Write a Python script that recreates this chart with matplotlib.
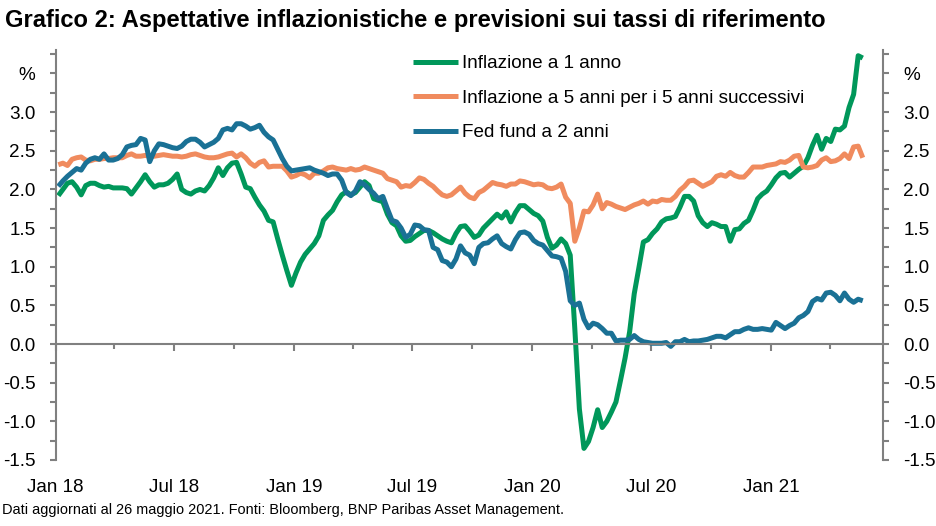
import numpy as np
import pandas as pd
import matplotlib
matplotlib.use('Agg')
import matplotlib.pyplot as plt
import matplotlib.dates as mdates
from matplotlib.ticker import MultipleLocator, FuncFormatter
from matplotlib import font_manager as fm
from datetime import datetime

# ---------------- data (weekly) ----------------
dates = pd.date_range('2018-01-05', periods=177, freq='W-FRI')

infl_1y = [
    1.92, 2.00, 2.08, 2.10, 2.03, 1.93, 2.05, 2.08, 2.08, 2.05,
    2.03, 2.04, 2.02, 2.02, 2.02, 2.01, 1.94, 2.02, 2.10, 2.19,
    2.10, 2.03, 2.06, 2.06, 2.08, 2.13, 2.20, 2.00, 1.96, 1.94,
    1.98, 2.00, 1.98, 2.05, 2.15, 2.28, 2.18, 2.28, 2.34, 2.35,
    2.20, 2.03, 2.01, 1.90, 1.80, 1.72, 1.60, 1.58, 1.36, 1.15,
    0.95, 0.76, 0.92, 1.06, 1.16, 1.23, 1.30, 1.40, 1.60, 1.67,
    1.73, 1.84, 1.93, 1.97, 1.93, 1.96, 2.03, 2.10, 2.05, 1.88,
    1.86, 1.84, 1.68, 1.57, 1.53, 1.40, 1.33, 1.34, 1.39, 1.43,
    1.47, 1.47, 1.44, 1.40, 1.36, 1.33, 1.31, 1.43, 1.52, 1.53,
    1.46, 1.38, 1.41, 1.50, 1.56, 1.62, 1.68, 1.63, 1.71, 1.58,
    1.70, 1.79, 1.79, 1.74, 1.69, 1.66, 1.59, 1.38, 1.24, 1.28,
    1.36, 1.30, 1.15, 0.20, -0.84, -1.35, -1.26, -1.08, -0.85, -1.08,
    -1.00, -0.88, -0.75, -0.47, -0.18, 0.16, 0.65, 0.98, 1.32, 1.35,
    1.43, 1.49, 1.58, 1.62, 1.63, 1.65, 1.77, 1.91, 1.91, 1.85,
    1.66, 1.57, 1.52, 1.57, 1.55, 1.52, 1.52, 1.33, 1.48, 1.49,
    1.56, 1.60, 1.73, 1.88, 1.94, 1.98, 2.06, 2.15, 2.21, 2.22,
    2.16, 2.21, 2.26, 2.30, 2.41, 2.57, 2.70, 2.52, 2.66, 2.62,
    2.78, 2.77, 2.82, 3.06, 3.23, 3.73, 3.70,
]

infl_5y5y = [
    2.32, 2.34, 2.31, 2.39, 2.41, 2.42, 2.38, 2.37, 2.39, 2.39,
    2.40, 2.40, 2.41, 2.41, 2.41, 2.44, 2.46, 2.43, 2.43, 2.44,
    2.43, 2.43, 2.44, 2.45, 2.44, 2.43, 2.43, 2.42, 2.43, 2.45,
    2.46, 2.44, 2.42, 2.41, 2.41, 2.42, 2.44, 2.46, 2.47, 2.42,
    2.46, 2.41, 2.34, 2.30, 2.35, 2.37, 2.29, 2.30, 2.30, 2.30,
    2.24, 2.16, 2.18, 2.21, 2.19, 2.15, 2.21, 2.21, 2.24, 2.28,
    2.29, 2.27, 2.26, 2.25, 2.27, 2.25, 2.26, 2.29, 2.27, 2.25,
    2.23, 2.21, 2.14, 2.12, 2.10, 2.03, 2.05, 2.04, 2.09, 2.15,
    2.13, 2.08, 2.04, 1.98, 1.93, 1.91, 1.93, 1.98, 2.03, 1.95,
    1.90, 1.88, 1.96, 1.99, 2.04, 2.09, 2.07, 2.06, 2.04, 2.07,
    2.07, 2.11, 2.10, 2.08, 2.06, 2.07, 2.06, 2.02, 2.01, 2.03,
    2.07, 1.90, 1.82, 1.33, 1.50, 1.72, 1.71, 1.80, 1.94, 1.75,
    1.83, 1.81, 1.78, 1.76, 1.74, 1.77, 1.80, 1.82, 1.85, 1.81,
    1.85, 1.84, 1.87, 1.86, 1.86, 1.91, 1.99, 2.04, 2.11, 2.12,
    2.08, 2.04, 2.07, 2.10, 2.17, 2.19, 2.17, 2.22, 2.18, 2.16,
    2.16, 2.22, 2.29, 2.29, 2.29, 2.31, 2.32, 2.33, 2.36, 2.35,
    2.38, 2.43, 2.44, 2.29, 2.28, 2.29, 2.31, 2.38, 2.41, 2.36,
    2.37, 2.40, 2.46, 2.40, 2.55, 2.56, 2.41,
]

fed_2y = [
    2.04, 2.11, 2.17, 2.22, 2.27, 2.25, 2.34, 2.39, 2.41, 2.39,
    2.46, 2.38, 2.38, 2.40, 2.45, 2.55, 2.57, 2.58, 2.66, 2.64,
    2.36, 2.50, 2.59, 2.58, 2.56, 2.54, 2.53, 2.56, 2.62, 2.65,
    2.65, 2.61, 2.55, 2.58, 2.61, 2.66, 2.77, 2.79, 2.77, 2.85,
    2.85, 2.82, 2.78, 2.80, 2.83, 2.74, 2.68, 2.64, 2.52, 2.40,
    2.30, 2.24, 2.25, 2.26, 2.27, 2.28, 2.25, 2.23, 2.21, 2.18,
    2.20, 2.20, 2.12, 1.96, 1.92, 1.98, 2.10, 2.06, 2.00, 1.95,
    1.88, 1.91, 1.75, 1.60, 1.58, 1.50, 1.38, 1.42, 1.54, 1.53,
    1.48, 1.47, 1.25, 1.22, 1.08, 1.06, 1.00, 1.10, 1.27, 1.18,
    1.15, 1.04, 1.25, 1.30, 1.31, 1.36, 1.40, 1.30, 1.26, 1.23,
    1.35, 1.44, 1.45, 1.42, 1.34, 1.30, 1.28, 1.21, 1.14, 1.13,
    1.11, 0.94, 0.56, 0.50, 0.53, 0.32, 0.21, 0.27, 0.25, 0.20,
    0.14, 0.14, 0.04, 0.05, 0.05, 0.06, 0.11, 0.06, 0.03, 0.02,
    0.01, 0.01, 0.01, 0.02, -0.03, 0.03, 0.03, 0.06, 0.03, 0.04,
    0.04, 0.05, 0.06, 0.08, 0.10, 0.10, 0.08, 0.12, 0.16, 0.16,
    0.19, 0.21, 0.19, 0.19, 0.20, 0.19, 0.18, 0.28, 0.24, 0.20,
    0.24, 0.27, 0.34, 0.37, 0.42, 0.55, 0.59, 0.57, 0.66, 0.67,
    0.63, 0.56, 0.66, 0.58, 0.54, 0.58, 0.56,
]

series_names = ['Inflazione a 1 anno',
                'Inflazione a 5 anni per i 5 anni successivi',
                'Fed fund a 2 anni']
xtick_labels = ['Jan 18', 'Jul 18', 'Jan 19', 'Jul 19', 'Jan 20', 'Jul 20', 'Jan 21']
title = 'Grafico 2: Aspettative inflazionistiche e previsioni sui tassi di riferimento'
footer = 'Dati aggiornati al 26 maggio 2021. Fonti: Bloomberg, BNP Paribas Asset Management.'

# ---------------- style ----------------
names = {f.name for f in fm.fontManager.ttflist}
REG = 'Liberation Sans' if 'Liberation Sans' in names else 'DejaVu Sans'
NARROW = 'Liberation Sans Narrow' if 'Liberation Sans Narrow' in names else REG
plt.rcParams['font.family'] = [REG, 'DejaVu Sans']

GREEN = '#00975A'
ORANGE = '#F08B5E'
BLUE = '#1A7195'
GRAY = '#808080'
LW = 3.6
FS = 13.6

fig = plt.figure(figsize=(9.37, 5.26), dpi=100)
W, H = 937, 526
ax = fig.add_axes([55.7 / W, 1 - 460 / H, (883 - 55.7) / W, (460 - 50.3) / H])

for vals, col, name in zip([infl_1y, infl_5y5y, fed_2y], [GREEN, ORANGE, BLUE], series_names):
    ax.plot(dates, vals, color=col, lw=LW, label=name,
            solid_joinstyle='round', solid_capstyle='butt')

ax.set_xlim(datetime(2018, 1, 1), datetime(2021, 6, 21))
ax.set_ylim(-1.5, 3.8)

# x axis line at zero with ticks
ax.spines['bottom'].set_position(('data', 0))
ax.spines['top'].set_visible(False)
for s in ['bottom', 'left', 'right']:
    ax.spines[s].set_color(GRAY)
    ax.spines[s].set_linewidth(1.5)
ax.xaxis.set_major_locator(mdates.MonthLocator(bymonth=[1, 7]))
ax.xaxis.set_minor_locator(mdates.MonthLocator(bymonth=[4, 10]))
ax.tick_params(axis='x', which='major', length=4.8, width=1.5, color=GRAY,
               direction='out', labelbottom=False)
ax.tick_params(axis='x', which='minor', length=3.4, width=1.5, color=GRAY,
               direction='out')

# labels at the bottom of the plot
label_dates = [datetime(2018 + i // 2, 1 + 6 * (i % 2), 1) for i in range(len(xtick_labels))]
sec = ax.secondary_xaxis('bottom')
sec.set_xticks(mdates.date2num(label_dates))
sec.set_xticklabels(xtick_labels)
sec.tick_params(length=0, pad=14, labelsize=FS, colors='black')
sec.spines['bottom'].set_visible(False)

# y axes on both sides
def yfmt(v, pos):
    q = int(round(v * 4))
    if q % 2:
        return ''
    if q == 14:
        return '%'
    if q == 0:
        return '0.0'
    return f'{v:.1f}'

ax.yaxis.set_major_locator(MultipleLocator(0.25))
ax.yaxis.set_major_formatter(FuncFormatter(yfmt))
ax.tick_params(axis='y', which='major', left=True, right=True, labelleft=True,
               labelright=True, length=4, width=1.5, color=GRAY, labelcolor='black',
               labelsize=FS, pad=10.5, direction='out')

leg = ax.legend(loc='upper left', bbox_to_anchor=(413 / W, 1 - 55 / H),
                bbox_transform=fig.transFigure, frameon=False, fontsize=FS,
                handlelength=2.4, handletextpad=0.2, labelspacing=0.92,
                borderpad=0, borderaxespad=0)

t_title = fig.text(5 / W, 1 - 20 / H, title, family=[NARROW, 'DejaVu Sans'],
                   fontweight='bold', fontsize=18, va='center', ha='left')
t_foot = fig.text(2 / W, 1 - 510 / H, footer, fontsize=10, va='center', ha='left')


def fit(t, target_px):
    fig.canvas.draw()
    r = fig.canvas.get_renderer()
    w = t.get_window_extent(r).width
    t.set_fontsize(t.get_fontsize() * target_px / w)


fit(t_title, 821)
fit(t_foot, 560)

fig.savefig('out.png', dpi=100)
